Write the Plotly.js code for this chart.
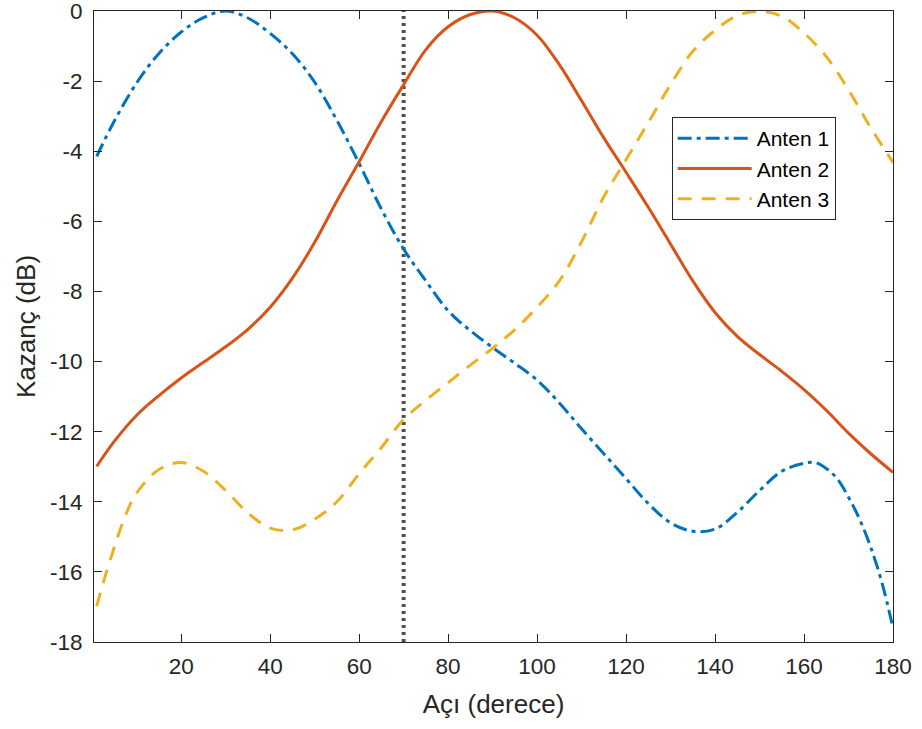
<!DOCTYPE html>
<html>
<head>
<meta charset="utf-8">
<script src="https://cdn.plot.ly/plotly-3.0.1.min.js"></script>
<style>
  html, body { margin: 0; padding: 0; background: #ffffff; }
  #chart { width: 922px; height: 729px; }
</style>
</head>
<body>
<div id="chart"></div>
<script>
// Açı değerleri (derece)
const angles1 = [1, 5, 10, 15, 20, 25, 30, 35, 40, 45, 50, 55, 60, 65, 70, 75, 80, 85, 90,
                 95, 100, 105, 110, 115, 120, 125, 130, 135, 140, 145, 150, 155, 160, 162.5, 165,
                 167.5, 170, 172.5, 175, 177.5, 180];
const angles2 = [1, 5, 10, 15, 20, 25, 30, 35, 40, 45, 50, 55, 60, 65, 70, 75, 80, 85, 90,
                 95, 100, 105, 110, 115, 120, 125, 130, 135, 140, 145, 150, 155, 160, 165, 170, 175, 180];
const angles3 = [1, 2.5, 5, 7.5, 10, 15, 20, 25, 30, 35, 40, 45, 50, 55, 60, 65, 70, 75, 80, 85, 90,
                 95, 100, 105, 110, 115, 120, 125, 130, 135, 140, 145, 150, 155, 160, 165, 170, 175, 180];

// Kazanç değerleri (dB)
const anten1 = [-4.15, -3.13, -2.05, -1.21, -0.6, -0.19, 0, -0.2, -0.64, -1.22, -2.03, -3.12, -4.35,
                -5.65, -6.79, -7.7, -8.55, -9.12, -9.6, -10.05, -10.53, -11.18, -11.92, -12.63, -13.34,
                -14.05, -14.6, -14.84, -14.78, -14.3, -13.68, -13.13, -12.9, -12.88, -13.05,
                -13.35, -13.87, -14.5, -15.3, -16.3, -17.6];

const anten2 = [-12.99, -12.27, -11.53, -10.97, -10.47, -10.02, -9.58, -9.08, -8.45, -7.62, -6.6, -5.42, -4.3,
                -3.15, -2.1, -1.1, -0.45, -0.1, 0, -0.2, -0.69, -1.53, -2.56, -3.62, -4.6,
                -5.6, -6.65, -7.7, -8.6, -9.28, -9.8, -10.28, -10.8, -11.39, -12.04, -12.63, -13.16];

const anten3 = [-16.98, -16.3, -15.28, -14.38, -13.75, -13.08, -12.88, -13.13, -13.68, -14.32, -14.75, -14.8,
                -14.5, -14.0, -13.2, -12.45, -11.65, -11.1, -10.6, -10.1, -9.62, -9.09, -8.45, -7.7, -6.58,
                -5.3, -4.24, -3.18, -2.1, -1.15, -0.55, -0.13, -0.01, -0.15, -0.63, -1.3, -2.25, -3.33, -4.32];

const seriesNames = ['Anten 1', 'Anten 2', 'Anten 3'];

// Seçilen yön (derece)
const markerAngle = 70;

// Eksen aralıkları ve etiketleri
const xRange = [0.4, 180];
const yRange = [-18, 0];
const xTickVals = [20, 40, 60, 80, 100, 120, 140, 160, 180];
const xTickText = ['20', '40', '60', '80', '100', '120', '140', '160', '180'];
const yTickVals = [0, -2, -4, -6, -8, -10, -12, -14, -16, -18];
const yTickText = ['0', '-2', '-4', '-6', '-8', '-10', '-12', '-14', '-16', '-18'];

const FONT = '"Liberation Sans", Arial, Helvetica, sans-serif';
const INK = '#262626';

const traces = [
  {
    x: [markerAngle, markerAngle], y: yRange, mode: 'lines', showlegend: false, hoverinfo: 'skip',
    line: { color: '#4f4f4f', width: 4, dash: '3px,4px' }
  },
  {
    x: angles1, y: anten1, name: seriesNames[0], mode: 'lines',
    line: { color: '#0072BD', width: 3, dash: '14px,5px,4px,5px', shape: 'spline', smoothing: 1 }
  },
  {
    x: angles2, y: anten2, name: seriesNames[1], mode: 'lines',
    line: { color: '#D95319', width: 3, shape: 'spline', smoothing: 1 }
  },
  {
    x: angles3, y: anten3, name: seriesNames[2], mode: 'lines',
    line: { color: '#EDB120', width: 3, dash: '14px,10px', shape: 'spline', smoothing: 1 }
  }
];

const axisCommon = {
  showline: true, mirror: 'allticks', linecolor: INK, linewidth: 1,
  ticks: 'inside', ticklen: 8, tickwidth: 1, tickcolor: INK,
  showgrid: false, zeroline: false,
  tickfont: { family: FONT, size: 22.5, color: INK },
  tickmode: 'array', ticklabeloverflow: 'allow'
};

const layout = {
  width: 922, height: 729,
  margin: { l: 94, r: 29, t: 11, b: 87 },
  paper_bgcolor: '#ffffff', plot_bgcolor: '#ffffff',
  showlegend: true,
  legend: {
    x: 0.723, y: 0.832, xanchor: 'left', yanchor: 'top',
    bgcolor: '#ffffff', bordercolor: INK, borderwidth: 1,
    font: { family: FONT, size: 21, color: '#000000' },
    itemwidth: 74, tracegroupgap: 0
  },
  xaxis: Object.assign({}, axisCommon, {
    range: xRange, tickvals: xTickVals, ticktext: xTickText,
    ticklabelstandoff: 4,
    title: { text: 'Açı (derece)', font: { family: FONT, size: 26, color: INK }, standoff: 16 }
  }),
  yaxis: Object.assign({}, axisCommon, {
    range: yRange, tickvals: yTickVals, ticktext: yTickText,
    ticklabelstandoff: 6,
    title: { text: 'Kazanç (dB)', font: { family: FONT, size: 26, color: INK }, standoff: 6 }
  })
};

Plotly.newPlot('chart', traces, layout, { displayModeBar: false, staticPlot: true });
</script>
</body>
</html>
